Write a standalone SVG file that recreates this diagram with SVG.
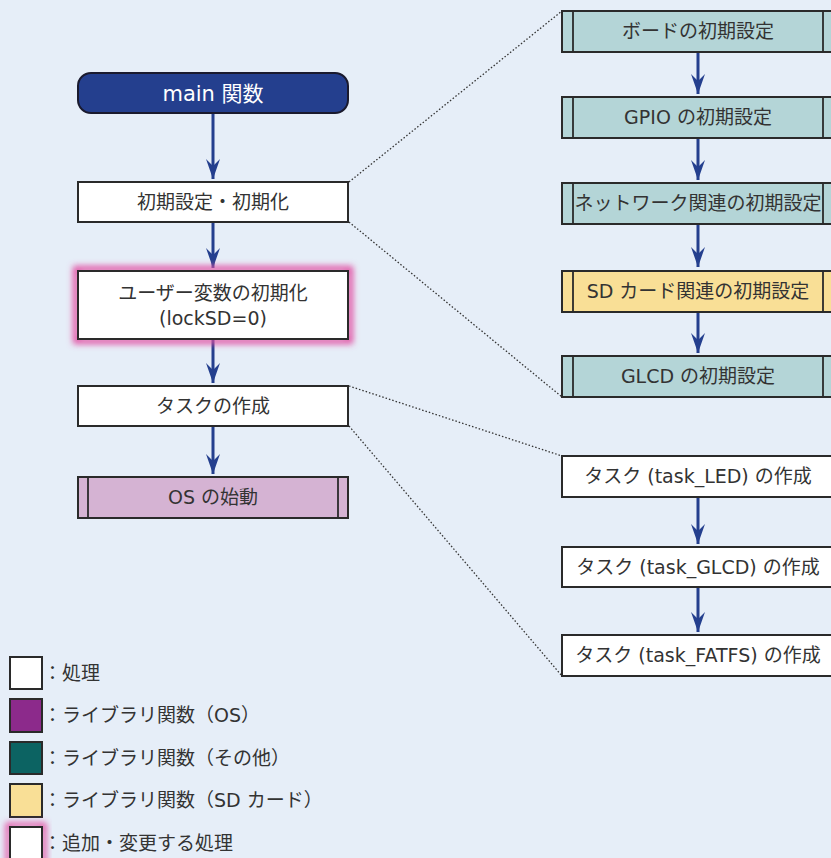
<svg xmlns="http://www.w3.org/2000/svg" width="831" height="858" viewBox="0 0 831 858">
<style>
.bg{fill:#e6eef8}
.box{stroke:#2a2a2a;stroke-width:2}
.w{fill:#ffffff}
.teal{fill:#b4d5d7}
.yel{fill:#f9df96}
.osf{fill:#d5b3d3}
.in{stroke:#2a2a2a;stroke-width:1.8;fill:none}
.t{font-family:"DejaVu Sans","Noto Sans CJK JP",sans-serif;font-size:19px;fill:#333333;text-anchor:middle}
.lt{font-family:"DejaVu Sans","Noto Sans CJK JP",sans-serif;font-size:19px;fill:#333333}
.arr{stroke:#243f8e;stroke-width:3;fill:none}
.dot{stroke:#333333;stroke-width:1.3;stroke-dasharray:1.5 2;fill:none}
</style>
<defs>
<marker id="ah" markerUnits="userSpaceOnUse" markerWidth="22" markerHeight="16" viewBox="-21 -8 22 16" refX="0" refY="0" orient="auto">
<path d="M0,0 L-20,-7 L-13,0 L-20,7 Z" fill="#243f8e"/>
</marker>
<filter id="glow" x="-20%" y="-40%" width="140%" height="180%">
<feGaussianBlur stdDeviation="3"/>
</filter>
</defs>
<rect class="bg" x="0" y="0" width="831" height="858"/>

<g id="connectors">
<line class="arr" x1="213" y1="113" x2="213" y2="179" marker-end="url(#ah)"/>
<line class="arr" x1="213" y1="222" x2="213" y2="268" marker-end="url(#ah)"/>
<line class="arr" x1="213" y1="339" x2="213" y2="383" marker-end="url(#ah)"/>
<line class="arr" x1="213" y1="426" x2="213" y2="474" marker-end="url(#ah)"/>
<line class="arr" x1="698" y1="52" x2="698" y2="94" marker-end="url(#ah)"/>
<line class="arr" x1="698" y1="138" x2="698" y2="180" marker-end="url(#ah)"/>
<line class="arr" x1="698" y1="224" x2="698" y2="267" marker-end="url(#ah)"/>
<line class="arr" x1="698" y1="312" x2="698" y2="353" marker-end="url(#ah)"/>
<line class="arr" x1="698" y1="497" x2="698" y2="544" marker-end="url(#ah)"/>
<line class="arr" x1="698" y1="587" x2="698" y2="632" marker-end="url(#ah)"/>
<line class="dot" x1="349" y1="182" x2="562" y2="11"/>
<line class="dot" x1="349" y1="222" x2="562" y2="397"/>
<line class="dot" x1="349" y1="386" x2="562" y2="456"/>
<line class="dot" x1="349" y1="426" x2="562" y2="676"/>
</g>

<g id="main">
<rect x="78" y="73" width="270" height="40" rx="13" fill="#243f8e" stroke="#1a1a2e" stroke-width="2"/>
<text class="t" x="213" y="100.5" style="fill:#ffffff;font-size:21px">main 関数</text>
</g>

<g id="init">
<rect class="box w" x="78" y="182" width="270" height="40"/>
<text class="t" x="213" y="209">初期設定・初期化</text>
</g>

<g id="uservar">
<rect x="76" y="269" width="274" height="72" fill="none" stroke="#e24fa3" stroke-width="6" filter="url(#glow)"/>
<rect class="box w" x="78" y="271" width="270" height="68"/>
<text class="t" x="213" y="300">ユーザー変数の初期化</text>
<text class="t" x="213" y="325">(lockSD=0)</text>
</g>

<g id="task">
<rect class="box w" x="78" y="386" width="270" height="40"/>
<text class="t" x="213" y="413">タスクの作成</text>
</g>

<g id="os">
<rect class="box osf" x="78" y="477" width="270" height="41"/>
<line class="in" x1="88" y1="477" x2="88" y2="518"/>
<line class="in" x1="338" y1="477" x2="338" y2="518"/>
<text class="t" x="213" y="504">OS の始動</text>
</g>

<g id="board">
<rect class="box teal" x="562" y="11" width="272" height="41"/>
<line class="in" x1="573" y1="11" x2="573" y2="52"/>
<line class="in" x1="823" y1="11" x2="823" y2="52"/>
<text class="t" x="698" y="38">ボードの初期設定</text>
</g>

<g id="gpio">
<rect class="box teal" x="562" y="97" width="272" height="41"/>
<line class="in" x1="573" y1="97" x2="573" y2="138"/>
<line class="in" x1="823" y1="97" x2="823" y2="138"/>
<text class="t" x="698" y="124">GPIO の初期設定</text>
</g>

<g id="network">
<rect class="box teal" x="562" y="183" width="272" height="41"/>
<line class="in" x1="573" y1="183" x2="573" y2="224"/>
<line class="in" x1="823" y1="183" x2="823" y2="224"/>
<text class="t" x="698" y="210">ネットワーク関連の初期設定</text>
</g>

<g id="sdcard">
<rect class="box yel" x="562" y="271" width="272" height="41"/>
<line class="in" x1="573" y1="271" x2="573" y2="312"/>
<line class="in" x1="823" y1="271" x2="823" y2="312"/>
<text class="t" x="698" y="298">SD カード関連の初期設定</text>
</g>

<g id="glcd">
<rect class="box teal" x="562" y="356" width="272" height="41"/>
<line class="in" x1="573" y1="356" x2="573" y2="397"/>
<line class="in" x1="823" y1="356" x2="823" y2="397"/>
<text class="t" x="698" y="383">GLCD の初期設定</text>
</g>

<g id="task_led">
<rect class="box w" x="562" y="456" width="272" height="41"/>
<text class="t" x="698" y="483">タスク (task_LED) の作成</text>
</g>

<g id="task_glcd">
<rect class="box w" x="562" y="547" width="272" height="40"/>
<text class="t" x="698" y="573.5">タスク (task_GLCD) の作成</text>
</g>

<g id="task_fatfs">
<rect class="box w" x="562" y="635" width="272" height="41"/>
<text class="t" x="698" y="662">タスク (task_FATFS) の作成</text>
</g>

<g id="legend">
<rect class="box w" x="10" y="657" width="32" height="32"/>
<text class="lt" x="43" y="680">：処理</text>
<rect class="box" x="10" y="699" width="32" height="33" fill="#8c2a8b"/>
<text class="lt" x="43" y="722">：ライブラリ関数（OS）</text>
<rect class="box" x="10" y="742" width="32" height="32" fill="#0c6362"/>
<text class="lt" x="43" y="765">：ライブラリ関数（その他）</text>
<rect class="box yel" x="10" y="784" width="32" height="33"/>
<text class="lt" x="43" y="807">：ライブラリ関数（SD カード）</text>
<rect x="8" y="825" width="36" height="40" fill="none" stroke="#e24fa3" stroke-width="5" filter="url(#glow)"/>
<rect class="box w" x="10" y="827" width="32" height="36"/>
<text class="lt" x="43" y="850">：追加・変更する処理</text>
</g>
</svg>
